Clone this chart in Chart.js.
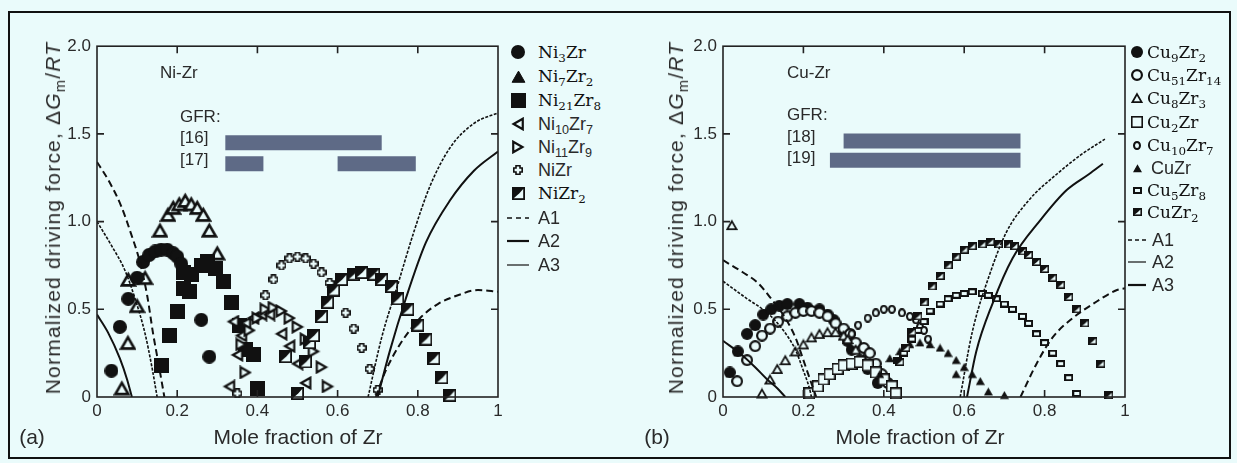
<!DOCTYPE html>
<html>
<head>
<meta charset="utf-8">
<script src="https://cdn.jsdelivr.net/npm/chart.js@4.4.1/dist/chart.umd.min.js"></script>
<style>
  html, body { margin: 0; padding: 0; background: #eafbfb; }
  #page { position: relative; width: 1237px; height: 463px; overflow: hidden;
          font-family: "Liberation Sans", Arial, sans-serif; color: #2a2a2a; }
  #frame { position: absolute; left: 8px; top: 11px; width: 1219px; height: 444px; border: 2px solid #111; }
  canvas.plot { position: absolute; }
  .txt { position: absolute; white-space: nowrap; transform: translateY(-50%); font-size: 17px; line-height: 20px; }
  .ytitle { position: absolute; white-space: nowrap; font-size: 21px; letter-spacing: 1.2px;
            transform: translate(-50%, -50%) rotate(-90deg); }
  .xtitle { position: absolute; white-space: nowrap; font-size: 21px; transform: translate(-50%, -50%); }
  .serif { font-family: "DejaVu Serif", serif; font-size: 17px; color: #111; }
  .sans { font-family: "Liberation Sans", Arial, sans-serif; font-size: 18px; }
  sub { font-size: 70%; vertical-align: -0.35em; line-height: 0; }
  .mk { position: absolute; }
</style>
</head>
<body>
<div id="page">
  <div id="frame"></div>
  <canvas id="niChart" class="plot" width="453" height="397" style="left:57px;top:30px"></canvas>
  <canvas id="cuChart" class="plot" width="454" height="397" style="left:683px;top:30px"></canvas>

  <div class="ytitle" style="left:53px;top:218px">Normalized driving force, Δ<i>G</i><sub>m</sub>/<i>RT</i></div>
  <div class="ytitle" style="left:676px;top:218px">Normalized driving force, Δ<i>G</i><sub>m</sub>/<i>RT</i></div>
  <div class="xtitle" style="left:298px;top:437px">Mole fraction of Zr</div>
  <div class="xtitle" style="left:920px;top:437px">Mole fraction of Zr</div>
  <div class="xtitle" style="left:32px;top:437px">(a)</div>
  <div class="xtitle" style="left:657px;top:437px">(b)</div>

  <div class="txt" style="left:160px;top:73px">Ni-Zr</div>
  <div class="txt" style="left:180px;top:117px">GFR:</div>
  <div class="txt" style="left:180px;top:138px">[16]</div>
  <div class="txt" style="left:180px;top:160px">[17]</div>
  <div class="txt" style="left:787px;top:73px">Cu-Zr</div>
  <div class="txt" style="left:787px;top:115px">GFR:</div>
  <div class="txt" style="left:787px;top:137px">[18]</div>
  <div class="txt" style="left:787px;top:158px">[19]</div>
</div>

<script>
const INK = '#111'
const BG = '#eafbfb'
const BAR = '#5e6a86'

// ---- Ni-Zr data: [mole fraction Zr, normalized driving force]
const niLabels = ['Ni<sub>3</sub>Zr', 'Ni<sub>7</sub>Zr<sub>2</sub>', 'Ni<sub>21</sub>Zr<sub>8</sub>',
  'Ni<sub>10</sub>Zr<sub>7</sub>', 'Ni<sub>11</sub>Zr<sub>9</sub>', 'NiZr', 'NiZr<sub>2</sub>']
const ni3Zr = [[0.036, 0.15], [0.057, 0.40], [0.078, 0.56], [0.10, 0.68], [0.115, 0.77], [0.13, 0.81],
  [0.145, 0.83], [0.16, 0.84], [0.175, 0.84], [0.19, 0.82], [0.20, 0.80], [0.21, 0.76], [0.22, 0.71],
  [0.26, 0.44], [0.28, 0.23]]
const ni7Zr2 = [[0.062, 0.05], [0.077, 0.31], [0.10, 0.52], [0.078, 0.67], [0.12, 0.68], [0.157, 0.95],
  [0.177, 1.04], [0.19, 1.08], [0.205, 1.10], [0.22, 1.12], [0.235, 1.10], [0.25, 1.08], [0.265, 1.04],
  [0.28, 0.95], [0.30, 0.82]]
const ni21Zr8 = [[0.16, 0.18], [0.18, 0.35], [0.20, 0.49], [0.215, 0.62], [0.23, 0.60], [0.215, 0.71],
  [0.235, 0.70], [0.26, 0.75], [0.275, 0.77], [0.295, 0.73], [0.315, 0.66], [0.335, 0.54], [0.355, 0.41],
  [0.37, 0.27], [0.39, 0.24], [0.40, 0.05]]
const ni10Zr7 = [[0.33, 0.06], [0.35, 0.24], [0.36, 0.35], [0.34, 0.43], [0.37, 0.42], [0.39, 0.45],
  [0.41, 0.47], [0.43, 0.47], [0.46, 0.36], [0.48, 0.29], [0.50, 0.19], [0.52, 0.08]]
const ni11Zr9 = [[0.37, 0.14], [0.36, 0.30], [0.38, 0.38], [0.40, 0.45], [0.42, 0.50], [0.44, 0.51],
  [0.46, 0.49], [0.48, 0.45], [0.50, 0.40], [0.52, 0.33], [0.54, 0.26], [0.56, 0.17], [0.575, 0.06]]
const niZr = [[0.35, 0.02], [0.42, 0.58], [0.44, 0.67], [0.46, 0.75], [0.48, 0.79], [0.50, 0.80],
  [0.52, 0.79], [0.54, 0.76], [0.56, 0.71], [0.58, 0.65], [0.62, 0.48], [0.64, 0.39], [0.66, 0.28],
  [0.68, 0.16], [0.70, 0.04]]
const niZr2 = [[0.50, 0.02], [0.47, 0.23], [0.53, 0.31], [0.52, 0.20], [0.54, 0.35], [0.56, 0.46],
  [0.575, 0.54], [0.59, 0.61], [0.61, 0.67], [0.64, 0.70], [0.66, 0.71], [0.69, 0.70], [0.71, 0.67],
  [0.735, 0.63], [0.75, 0.56], [0.775, 0.50], [0.80, 0.41], [0.82, 0.33], [0.84, 0.22], [0.86, 0.11],
  [0.88, 0.01]]
const niA1 = [[[0, 1.34], [0.03, 1.23], [0.06, 1.09], [0.085, 0.93], [0.107, 0.77], [0.125, 0.58],
  [0.14, 0.36], [0.155, 0.17], [0.168, 0]],
  [[0.695, 0], [0.72, 0.15], [0.75, 0.28], [0.78, 0.38], [0.81, 0.46], [0.85, 0.53], [0.90, 0.58],
  [0.95, 0.61], [1.0, 0.60]]]
const niA2 = [[[0, 0.47], [0.027, 0.37], [0.057, 0.22], [0.075, 0.10], [0.087, 0]],
  [[0.70, 0], [0.73, 0.26], [0.77, 0.56], [0.82, 0.88], [0.88, 1.12], [0.94, 1.29], [1.0, 1.40]]]
const niA3 = [[[0, 1.0], [0.037, 0.86], [0.07, 0.72], [0.095, 0.56], [0.12, 0.36], [0.137, 0.17], [0.15, 0]],
  [[0.676, 0], [0.71, 0.34], [0.75, 0.64], [0.79, 0.94], [0.83, 1.20], [0.88, 1.42], [0.94, 1.56], [1.0, 1.62]]]
// glass forming ranges: [y, [x0, x1], ...]
const niGfr16 = [1.45, [0.32, 0.71]]
const niGfr17 = [1.33, [0.32, 0.415], [0.60, 0.795]]

// ---- Cu-Zr data
const cuLabels = ['Cu<sub>9</sub>Zr<sub>2</sub>', 'Cu<sub>51</sub>Zr<sub>14</sub>', 'Cu<sub>8</sub>Zr<sub>3</sub>',
  'Cu<sub>2</sub>Zr', 'Cu<sub>10</sub>Zr<sub>7</sub>', 'CuZr', 'Cu<sub>5</sub>Zr<sub>8</sub>', 'CuZr<sub>2</sub>']
const cu9Zr2 = [[0.017, 0.14], [0.037, 0.26], [0.06, 0.36], [0.08, 0.41], [0.10, 0.47], [0.12, 0.50],
  [0.14, 0.52], [0.16, 0.53], [0.19, 0.53], [0.21, 0.51], [0.24, 0.50], [0.26, 0.47], [0.275, 0.44],
  [0.30, 0.38], [0.31, 0.32], [0.32, 0.27], [0.34, 0.21], [0.36, 0.16], [0.385, 0.08]]
const cu51Zr14 = [[0.035, 0.09], [0.06, 0.21], [0.08, 0.29], [0.097, 0.35], [0.117, 0.39], [0.137, 0.43],
  [0.16, 0.46], [0.18, 0.48], [0.20, 0.49], [0.22, 0.49], [0.24, 0.48], [0.26, 0.46], [0.28, 0.42],
  [0.30, 0.39], [0.316, 0.36], [0.33, 0.31], [0.35, 0.28], [0.365, 0.25], [0.38, 0.19], [0.395, 0.13],
  [0.41, 0.08]]
const cu8Zr3 = [[0.022, 0.98], [0.097, 0.02], [0.117, 0.10], [0.135, 0.16], [0.155, 0.21], [0.18, 0.26],
  [0.20, 0.30], [0.22, 0.34], [0.24, 0.36], [0.26, 0.37], [0.28, 0.37], [0.30, 0.35], [0.31, 0.33],
  [0.33, 0.27], [0.35, 0.22], [0.365, 0.17]]
const cu2Zr = [[0.215, 0.02], [0.236, 0.06], [0.25, 0.10], [0.265, 0.13], [0.285, 0.16], [0.30, 0.18],
  [0.32, 0.19], [0.34, 0.20], [0.36, 0.18], [0.38, 0.14], [0.40, 0.10], [0.42, 0.06], [0.43, 0.02]]
const cu10Zr7 = [[0.32, 0.36], [0.336, 0.41], [0.36, 0.45], [0.38, 0.48], [0.40, 0.50], [0.42, 0.50],
  [0.445, 0.48], [0.465, 0.46], [0.48, 0.44], [0.49, 0.40], [0.50, 0.38], [0.51, 0.33]]
const cuZr = [[0.39, 0.13], [0.415, 0.22], [0.44, 0.26], [0.465, 0.30], [0.49, 0.31], [0.515, 0.30],
  [0.54, 0.28], [0.56, 0.25], [0.58, 0.21], [0.60, 0.17], [0.62, 0.13], [0.64, 0.09], [0.66, 0.03],
  [0.58, 0.13], [0.70, 0.01]]
const cu5Zr8 = [[0.435, 0.21], [0.45, 0.25], [0.47, 0.33], [0.485, 0.38], [0.50, 0.43], [0.515, 0.49],
  [0.54, 0.53], [0.56, 0.56], [0.58, 0.58], [0.60, 0.59], [0.62, 0.60], [0.645, 0.59], [0.66, 0.58],
  [0.68, 0.56], [0.70, 0.53], [0.72, 0.50], [0.745, 0.46], [0.76, 0.42], [0.78, 0.36], [0.80, 0.31],
  [0.82, 0.25], [0.84, 0.19], [0.86, 0.11], [0.88, 0.02]]
const cuZr2 = [[0.44, 0.20], [0.455, 0.28], [0.47, 0.37], [0.485, 0.46], [0.50, 0.54], [0.52, 0.63],
  [0.54, 0.69], [0.56, 0.75], [0.58, 0.80], [0.60, 0.84], [0.62, 0.86], [0.645, 0.87], [0.665, 0.885],
  [0.685, 0.87], [0.71, 0.87], [0.725, 0.86], [0.745, 0.83], [0.76, 0.81], [0.78, 0.77], [0.80, 0.73],
  [0.82, 0.68], [0.84, 0.64], [0.86, 0.57], [0.88, 0.50], [0.90, 0.42], [0.92, 0.32], [0.94, 0.19],
  [0.96, 0.01]]
const cuA1 = [[[0, 0.78], [0.05, 0.71], [0.087, 0.65], [0.12, 0.56], [0.155, 0.45], [0.18, 0.34],
  [0.20, 0.21], [0.215, 0.11], [0.232, 0]],
  [[0.74, 0], [0.78, 0.19], [0.82, 0.34], [0.87, 0.45], [0.92, 0.53], [0.98, 0.61], [1.0, 0.62]]]
const cuA2 = [[[0, 0.66], [0.06, 0.56], [0.11, 0.48], [0.15, 0.38], [0.18, 0.27], [0.20, 0.15],
  [0.215, 0.05], [0.22, 0]],
  [[0.59, 0], [0.62, 0.37], [0.665, 0.71], [0.705, 0.94], [0.76, 1.12], [0.83, 1.27], [0.89, 1.38], [0.95, 1.47]]]
const cuA3 = [[[0, 0.32], [0.047, 0.24], [0.08, 0.17], [0.11, 0.10], [0.135, 0.05], [0.155, 0]],
  [[0.607, 0], [0.63, 0.26], [0.67, 0.53], [0.72, 0.79], [0.79, 1.01], [0.855, 1.18], [0.91, 1.27], [0.945, 1.33]]]
const cuGfr18 = [1.46, [0.30, 0.74]]
const cuGfr19 = [1.35, [0.266, 0.74]]

const xTicks = [0, 0.2, 0.4, 0.6, 0.8, 1]
const yTicks = [0, 0.5, 1.0, 1.5, 2.0]

// ---- marker images used both in the plots and in the legends
function marker(w, h, draw) {
  const c = document.createElement('canvas')
  c.width = w
  c.height = h
  const g = c.getContext('2d')
  g.strokeStyle = INK
  g.fillStyle = INK
  draw(g, w, h)
  return c
}
const disc = d => marker(d, d, g => { g.beginPath(); g.arc(d / 2, d / 2, d / 2, 0, Math.PI * 2); g.fill() })
const ring = (d, lw) => marker(d, d, g => {
  g.lineWidth = lw
  g.beginPath(); g.ellipse(d / 2, d / 2, d / 2 - lw / 2, d / 2 - lw / 2, 0, 0, Math.PI * 2)
  g.fillStyle = BG; g.fill(); g.stroke()
})
const oval = (w, h, lw) => marker(w, h, g => {
  g.lineWidth = lw
  g.beginPath(); g.ellipse(w / 2, h / 2, w / 2 - lw / 2, h / 2 - lw / 2, 0, 0, Math.PI * 2)
  g.fillStyle = BG; g.fill(); g.stroke()
})
const tri = (d, lw, rot, filled) => marker(d, d, g => {
  const r = d / 2 - lw * 0.6
  g.translate(d / 2, d / 2); g.rotate(rot); g.translate(0, r * 0.22)
  g.beginPath(); g.moveTo(0, -r); g.lineTo(r * 0.93, r * 0.62); g.lineTo(-r * 0.93, r * 0.62); g.closePath()
  g.lineJoin = 'miter'; g.lineWidth = lw
  g.fillStyle = filled ? INK : BG
  g.fill(); g.stroke()
})
const box = (w, h, lw, filled) => marker(w, h, g => {
  const o = lw / 2
  g.fillStyle = filled ? INK : BG
  g.fillRect(o, o, w - lw, h - lw)
  if (lw) { g.lineWidth = lw; g.strokeRect(o, o, w - lw, h - lw) }
})
const halfBox = (w, h, lw) => marker(w, h, g => {
  const o = lw / 2
  g.fillStyle = BG; g.fillRect(o, o, w - lw, h - lw)
  g.fillStyle = INK
  g.beginPath(); g.moveTo(o, o); g.lineTo(w - o, o); g.lineTo(w * 0.55, h * 0.5); g.lineTo(o, h - o); g.closePath(); g.fill()
  g.lineWidth = lw; g.strokeRect(o, o, w - lw, h - lw)
})
const plus = (d, arm, lw) => marker(d, d, g => {
  const a = arm / 2, e = d / 2 - lw / 2, c = d / 2
  g.lineWidth = lw
  g.beginPath()
  g.moveTo(c - a, c - e); g.lineTo(c + a, c - e); g.lineTo(c + a, c - a); g.lineTo(c + e, c - a)
  g.lineTo(c + e, c + a); g.lineTo(c + a, c + a); g.lineTo(c + a, c + e); g.lineTo(c - a, c + e)
  g.lineTo(c - a, c + a); g.lineTo(c - e, c + a); g.lineTo(c - e, c - a); g.lineTo(c - a, c - a)
  g.closePath(); g.fillStyle = BG; g.fill(); g.stroke()
})
const lineSample = (w, lw, dash) => marker(w, 6, g => {
  g.lineWidth = lw; g.setLineDash(dash)
  g.beginPath(); g.moveTo(0, 3); g.lineTo(w, 3); g.stroke()
})

const niMarks = [disc(14), tri(17, 2.6, 0, false), box(15, 15, 0, true), tri(14, 2.2, -Math.PI / 2, false),
  tri(14, 2.2, Math.PI / 2, false), plus(10, 4, 1.6), halfBox(13, 13, 1.8)]
const cuMarks = [disc(12), ring(12, 2.2), tri(12, 1.8, 0, false), box(12, 12, 1.6, false), oval(8, 9, 2),
  tri(9, 1.2, 0, true), box(9, 7, 2, false), halfBox(9, 8, 1.6)]

// ---- dataset builders
const pts = arr => arr.map(([x, y]) => ({ x, y }))
const scatterSet = (label, arr, img) => ({
  label, data: pts(arr), pointStyle: img, pointRadius: 6, showLine: false, clip: false
})
const curveSets = (label, branches, width, dash) => branches.map(b => ({
  label, data: pts(b), showLine: true, borderColor: INK, borderWidth: width, borderDash: dash,
  pointRadius: 0, cubicInterpolationMode: 'monotone', fill: false
}))
const barSets = ([y, ...spans]) => spans.map(([x0, x1]) => ({
  label: 'GFR', data: pts([[x0, y], [x1, y]]), showLine: true, borderColor: BAR, borderWidth: 15,
  borderCapStyle: 'butt', pointRadius: 0
}))

// frame around the plot area with inward tick marks on all sides
const frameTicks = {
  id: 'frameTicks',
  afterDatasetsDraw(chart) {
    const { ctx, chartArea: a, scales: { x, y } } = chart
    ctx.save()
    ctx.strokeStyle = '#222'
    ctx.lineWidth = 1.6
    ctx.strokeRect(a.left, a.top, a.right - a.left, a.bottom - a.top)
    ctx.beginPath()
    xTicks.slice(1, -1).forEach(v => {
      const px = x.getPixelForValue(v)
      ctx.moveTo(px, a.bottom); ctx.lineTo(px, a.bottom - 7)
      ctx.moveTo(px, a.top); ctx.lineTo(px, a.top + 7)
    })
    yTicks.slice(1, -1).forEach(v => {
      const py = y.getPixelForValue(v)
      ctx.moveTo(a.left, py); ctx.lineTo(a.left + 7, py)
      ctx.moveTo(a.right, py); ctx.lineTo(a.right - 7, py)
    })
    ctx.stroke()
    ctx.restore()
  }
}

const tickFont = { family: 'Liberation Sans', size: 17 }
function axes() {
  return {
    x: {
      type: 'linear', min: 0, max: 1,
      afterFit(s) { s.height = 30 },
      afterBuildTicks(s) { s.ticks = xTicks.map(v => ({ value: v })) },
      grid: { display: false, drawTicks: false }, border: { display: false },
      ticks: { padding: 4, color: '#2a2a2a', font: tickFont, maxRotation: 0,
        callback: v => (v === 0 || v === 1) ? String(v) : v.toFixed(1) }
    },
    y: {
      type: 'linear', min: 0, max: 2,
      afterFit(s) { s.width = 40 },
      afterBuildTicks(s) { s.ticks = yTicks.map(v => ({ value: v })) },
      grid: { display: false, drawTicks: false }, border: { display: false },
      ticks: { padding: 6, color: '#2a2a2a', font: tickFont,
        callback: v => v === 0 ? '0' : v.toFixed(1) }
    }
  }
}

function makeChart(id, datasets) {
  return new Chart(document.getElementById(id), {
    type: 'scatter',
    data: { datasets },
    options: {
      responsive: false, animation: false,
      layout: { padding: { top: 10, right: 12, left: 0, bottom: 0 } },
      plugins: { legend: { display: false }, tooltip: { enabled: false } },
      scales: axes()
    },
    plugins: [frameTicks]
  })
}

makeChart('niChart', [
  ...curveSets('A1', niA1, 2, [7, 4]),
  ...curveSets('A2', niA2, 2, []),
  ...curveSets('A3', niA3, 1.6, [3, 1.5]),
  scatterSet(niLabels[6], niZr2, niMarks[6]),
  scatterSet(niLabels[5], niZr, niMarks[5]),
  scatterSet(niLabels[4], ni11Zr9, niMarks[4]),
  scatterSet(niLabels[3], ni10Zr7, niMarks[3]),
  scatterSet(niLabels[2], ni21Zr8, niMarks[2]),
  scatterSet(niLabels[0], ni3Zr, niMarks[0]),
  scatterSet(niLabels[1], ni7Zr2, niMarks[1]),
  ...barSets(niGfr16),
  ...barSets(niGfr17)
])

makeChart('cuChart', [
  ...curveSets('A1', cuA1, 2, [7, 4]),
  ...curveSets('A2', cuA2, 1.6, [3, 1.5]),
  ...curveSets('A3', cuA3, 2, []),
  scatterSet(cuLabels[7], cuZr2, cuMarks[7]),
  scatterSet(cuLabels[6], cu5Zr8, cuMarks[6]),
  scatterSet(cuLabels[5], cuZr, cuMarks[5]),
  scatterSet(cuLabels[4], cu10Zr7, cuMarks[4]),
  scatterSet(cuLabels[3], cu2Zr, cuMarks[3]),
  scatterSet(cuLabels[2], cu8Zr3, cuMarks[2]),
  scatterSet(cuLabels[1], cu51Zr14, cuMarks[1]),
  scatterSet(cuLabels[0], cu9Zr2, cuMarks[0]),
  ...barSets(cuGfr18),
  ...barSets(cuGfr19)
])

// ---- legends beside each plot
const page = document.getElementById('page')
function legend(markX, textX, rows) {
  rows.forEach(r => {
    const m = r.mark
    m.className = 'mk'
    m.style.left = (markX - m.width / 2) + 'px'
    m.style.top = (r.y - m.height / 2) + 'px'
    page.appendChild(m)
    const t = document.createElement('div')
    t.className = 'txt ' + (r.serif ? 'serif' : 'sans')
    t.style.left = (textX + (r.dx || 0)) + 'px'
    t.style.top = r.y + 'px'
    t.innerHTML = r.label
    page.appendChild(t)
  })
}
const copy = c => marker(c.width, c.height, g => g.drawImage(c, 0, 0))
const niSerif = [true, true, true, false, false, false, true]
const niLegY = [52, 76, 100, 124, 147, 170, 193]
legend(518, 538, niLabels.map((label, i) => ({
  label, serif: niSerif[i], y: niLegY[i],
  mark: i === 1 ? tri(15, 1, 0, true) : copy(niMarks[i])
})).concat([
  { label: 'A1', y: 218, mark: lineSample(22, 1.5, [5, 4]) },
  { label: 'A2', y: 241, mark: lineSample(22, 2.2, []) },
  { label: 'A3', y: 265, mark: lineSample(22, 1.2, []) }
]))
const cuSerif = [true, true, true, true, true, false, true, true]
const cuLegY = [52, 75, 98, 122, 145, 168, 190, 212]
legend(1137, 1147, cuLabels.map((label, i) => ({
  label, serif: cuSerif[i], y: cuLegY[i], dx: i === 5 ? 4 : 0, mark: copy(cuMarks[i])
})).concat([
  { label: 'A1', y: 240, dx: 5, mark: lineSample(18, 1.5, [4, 3]) },
  { label: 'A2', y: 262, dx: 5, mark: lineSample(18, 1.2, []) },
  { label: 'A3', y: 285, dx: 5, mark: lineSample(18, 2.2, []) }
]))
</script>
</body>
</html>
